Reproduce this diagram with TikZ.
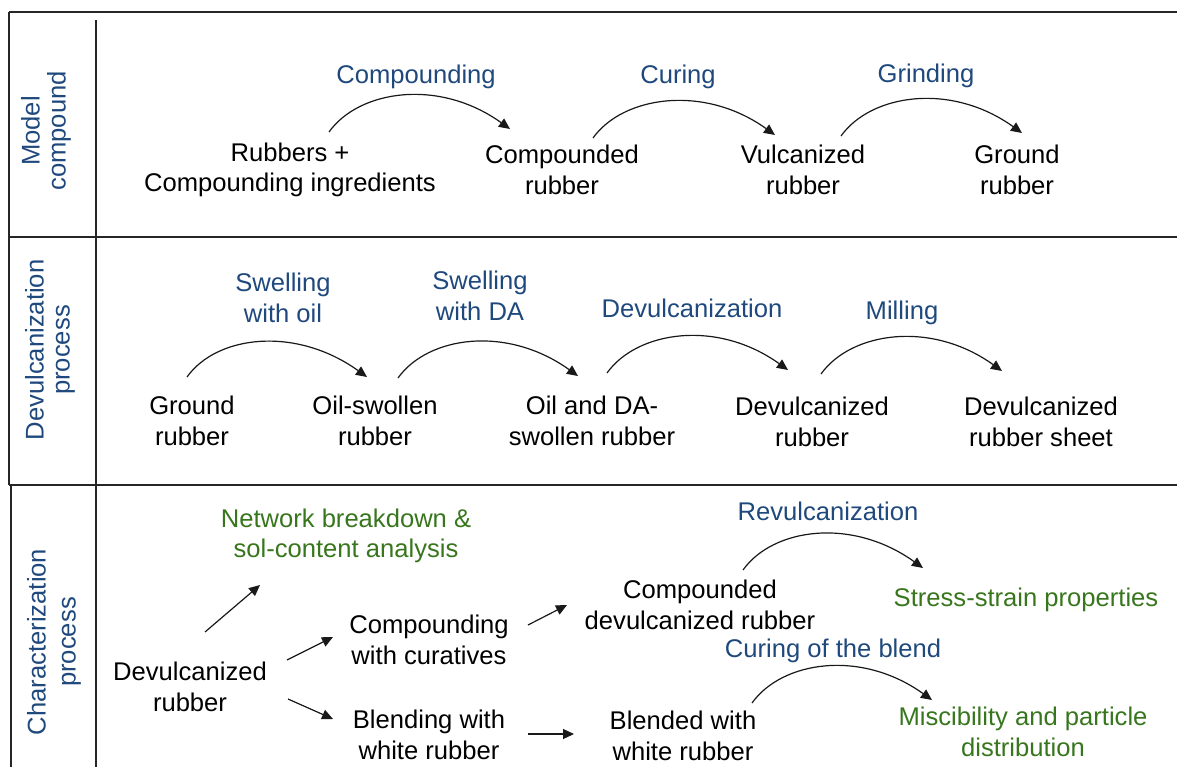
\documentclass[tikz,border=0pt]{standalone}
\usepackage{fontspec}
\setmainfont{Liberation Sans}
\usetikzlibrary{arrows.meta}

\definecolor{stepblue}{RGB}{31,73,125}
\definecolor{resgreen}{RGB}{56,118,29}

\begin{document}
\begin{tikzpicture}[
        >={Triangle[length=11pt,width=10pt]},
        x=1pt,
        y=-1pt,
        frame/.style={line width=1.4pt, black!85},
        txt/.style={align=center, inner sep=1pt, font=\fontsize{25.6}{30.5}\selectfont},
        item/.style={txt, black},
        stepname/.style={txt, stepblue},
        result/.style={txt, resgreen},
        rowname/.style={align=center, inner sep=1pt, rotate=90, stepblue, font=\fontsize{25.6}{26}\selectfont},
        flow/.style={->, line width=1.2pt, black!90}
    ]

    \useasboundingbox (0,0) rectangle (1177,767);

    % table lines
    \draw[frame] (9,12) -- (1177,12);
    \draw[frame] (9,237) -- (1177,237);
    \draw[frame] (9,485) -- (1177,485);
    \draw[frame] (9,12) -- (9,485);
    \draw[frame] (11,485) -- (11,767);
    \draw[frame] (96,20) -- (96,767);

    % row titles
    \node[rowname] (rowmodel) at (46,131) {Model\\compound};
    \node[rowname] (rowdevul) at (50,350) {Devulcanization\\process};
    \node[rowname, font=\fontsize{25.6}{30}\selectfont] (rowchar) at (54,642) {Characterization\\process};

    % model compound
    \node[item] (rub) at (290,170) {Rubbers +\\Compounding ingredients};
    \node[item] (cmp) at (562,170) {Compounded\\rubber};
    \node[item] (vul) at (803,170) {Vulcanized\\rubber};
    \node[item] (gro) at (1017,170) {Ground\\rubber};

    \node[stepname] (lcmp) at (416,77) {Compounding};
    \node[stepname] (lcur) at (678,77) {Curing};
    \node[stepname] (lgri) at (926,76) {Grinding};

    \draw[flow] ([shift={(39,-38)}]rub.center) .. controls +(30,-42) and +(-71,-51) .. ([shift={(-52,-41)}]cmp.center);
    \draw[flow] ([shift={(31,-32)}]cmp.center) .. controls +(30,-42) and +(-71,-51) .. ([shift={(-28,-35)}]vul.center);
    \draw[flow] ([shift={(38,-34)}]vul.center) .. controls +(30,-42) and +(-71,-51) .. ([shift={(5,-37)}]gro.center);

    % devulcanization process
    \node[item] (grr) at (192,421) {Ground\\rubber};
    \node[item] (osw) at (375,421) {Oil-swollen\\rubber};
    \node[item] (oda) at (592,421) {Oil and DA-\\swollen rubber};
    \node[item] (dvr) at (812,422) {Devulcanized\\rubber};
    \node[item] (dvs) at (1041,422) {Devulcanized\\rubber sheet};

    \node[stepname] (lswo) at (283,298) {Swelling\\with oil};
    \node[stepname] (lswd) at (480,296) {Swelling\\with DA};
    \node[stepname] (ldev) at (692,308) {Devulcanization};
    \node[stepname] (lmil) at (902,313) {Milling};

    \draw[flow] ([shift={(-5,-44)}]grr.center) .. controls +(30,-42) and +(-71,-51) .. ([shift={(-8,-44)}]osw.center);
    \draw[flow] ([shift={(23,-43)}]osw.center) .. controls +(30,-42) and +(-71,-51) .. ([shift={(-14,-45)}]oda.center);
    \draw[flow] ([shift={(15,-48)}]oda.center) .. controls +(30,-42) and +(-71,-51) .. ([shift={(-24,-52)}]dvr.center);
    \draw[flow] ([shift={(9,-48)}]dvr.center) .. controls +(30,-42) and +(-71,-51) .. ([shift={(-39,-51)}]dvs.center);

    % characterization process
    \node[item] (dr) at (190,687) {Devulcanized\\rubber};
    \node[result] (net) at (346,536) {Network breakdown \&\\sol-content analysis};
    \node[item] (cwc) at (429,640) {Compounding\\with curatives};
    \node[item] (bwh) at (429,735) {Blending with\\white rubber};
    \node[item] (cdr) at (700,605) {Compounded\\devulcanized rubber};
    \node[item] (bwr) at (683,736) {Blended with\\white rubber};
    \node[result] (ssp) at (1026,600) {Stress-strain properties};
    \node[result] (mis) at (1023,732) {Miscibility and particle\\distribution};

    \node[stepname] (lrev) at (828,511) {Revulcanization};
    \node[stepname] (lcob) at (833,651) {Curing of the blend};

    \draw[flow] ([shift={(15,-55)}]dr.center) -- ([shift={(-86,49)}]net.center);
    \draw[flow] ([shift={(97,-27)}]dr.center) -- ([shift={(-96,-3)}]cwc.center);
    \draw[flow] ([shift={(98,12)}]dr.center) -- ([shift={(-96,-16)}]bwh.center);
    \draw[flow] ([shift={(99,-15)}]cwc.center) -- ([shift={(-133,0)}]cdr.center);
    \draw[flow] ([shift={(99,-1)}]bwh.center) -- ([shift={(-109,-2)}]bwr.center);

    \draw[flow] ([shift={(43,-35)}]cdr.center) .. controls +(30,-42) and +(-71,-51) .. ([shift={(-103,-32)}]ssp.center);
    \draw[flow] ([shift={(69,-33)}]bwr.center) .. controls +(30,-42) and +(-71,-51) .. ([shift={(-91,-32)}]mis.center);

\end{tikzpicture}
\end{document}
